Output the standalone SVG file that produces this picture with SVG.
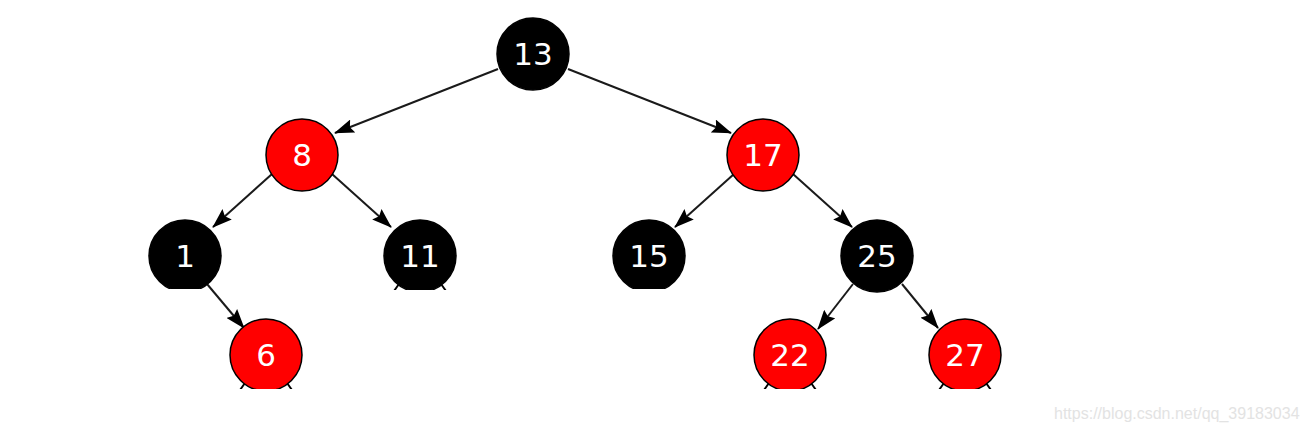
<svg xmlns="http://www.w3.org/2000/svg" width="1305" height="432" viewBox="0 0 1305 432">
<defs>
<marker id="arr" markerWidth="20" markerHeight="14" refX="19" refY="7" orient="auto" markerUnits="userSpaceOnUse">
<path d="M0,0 L20,7 L0,14 L3,7 z" fill="#000"/>
</marker>
<style>
.n circle{stroke:#000;stroke-width:1.5}
.b circle{fill:#000}
.r circle{fill:#ff0000}
.n text{fill:#fff;font-family:"DejaVu Sans",sans-serif;font-size:31px;text-anchor:middle}
.e line{stroke:#1a1a1a;stroke-width:2;marker-end:url(#arr)}
.s line{stroke:#000;stroke-width:2}
</style>
</defs>
<rect width="1305" height="432" fill="#fff"/>
<g id="connectors">
<g class="e">
<line x1="498" y1="69" x2="335" y2="133"/>
<line x1="568" y1="69" x2="731" y2="133"/>
<line x1="272" y1="174" x2="213" y2="227"/>
<line x1="332" y1="174" x2="391" y2="227"/>
<line x1="734" y1="174" x2="675" y2="227"/>
<line x1="793" y1="174" x2="852" y2="227"/>
<line x1="207" y1="284" x2="244" y2="328"/>
<line x1="853" y1="284" x2="818" y2="329"/>
<line x1="902" y1="284" x2="938" y2="328"/>
</g>
<g class="s">
<line x1="399" y1="284" x2="394" y2="291"/>
<line x1="441" y1="284" x2="446" y2="291"/>
<line x1="245" y1="383" x2="240" y2="390"/>
<line x1="287" y1="383" x2="292" y2="390"/>
<line x1="769" y1="383" x2="764" y2="390"/>
<line x1="811" y1="383" x2="816" y2="390"/>
<line x1="944" y1="383" x2="939" y2="390"/>
<line x1="986" y1="383" x2="991" y2="390"/>
</g>
</g>
<g id="n13" class="n b"><circle cx="533" cy="54" r="36"/><text x="533" y="65">13</text></g>
<g id="n8" class="n r"><circle cx="302" cy="155" r="36"/><text x="302" y="166">8</text></g>
<g id="n17" class="n r"><circle cx="763" cy="155" r="36"/><text x="763" y="166">17</text></g>
<g id="n1" class="n b"><circle cx="185" cy="256" r="36"/><text x="185" y="267">1</text></g>
<g id="n11" class="n b"><circle cx="420" cy="256" r="36"/><text x="420" y="267">11</text></g>
<g id="n15" class="n b"><circle cx="649" cy="256" r="36"/><text x="649" y="267">15</text></g>
<g id="n25" class="n b"><circle cx="877" cy="256" r="36"/><text x="877" y="267">25</text></g>
<g id="n6" class="n r"><circle cx="266" cy="355" r="36"/><text x="266" y="366">6</text></g>
<g id="n22" class="n r"><circle cx="790" cy="355" r="36"/><text x="790" y="366">22</text></g>
<g id="n27" class="n r"><circle cx="965" cy="355" r="36"/><text x="965" y="366">27</text></g>
<rect x="140" y="289" width="64" height="12" fill="#fff"/>
<rect x="380" y="290" width="80" height="10" fill="#fff"/>
<rect x="605" y="289" width="90" height="12" fill="#fff"/>
<rect x="220" y="389" width="92" height="12" fill="#fff"/>
<rect x="745" y="389" width="90" height="12" fill="#fff"/>
<rect x="920" y="389" width="90" height="12" fill="#fff"/>
<text x="1054" y="419" font-family="Liberation Sans, Arial, sans-serif" font-size="16" fill="#e3e3e3">https://blog.csdn.net/qq_39183034</text>
</svg>
